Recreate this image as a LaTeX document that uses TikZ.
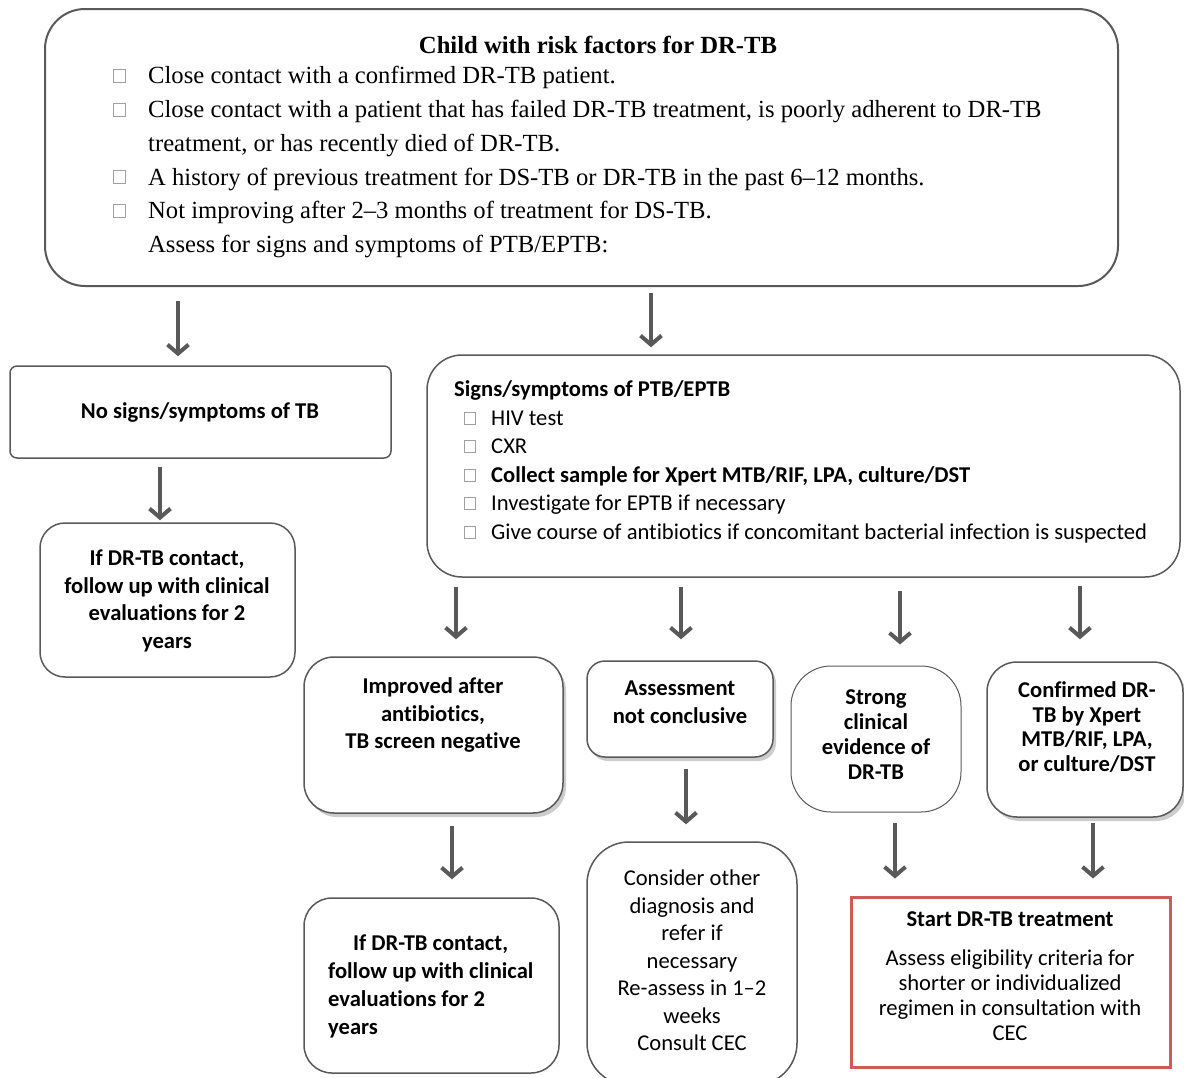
\documentclass[tikz,border=0pt]{standalone}
\usepackage{fontspec}
\setmainfont{Liberation Serif}
\newfontfamily\calfont[Ligatures={NoCommon}]{Carlito}
\usetikzlibrary{arrows.meta,shadows}
\definecolor{lc}{RGB}{89,89,89}
\definecolor{rc}{RGB}{205,92,88}
\definecolor{bq}{RGB}{160,160,160}
\tikzset{
  box/.style={draw=lc, line width=1.5pt, rounded corners=#1, inner sep=0pt, fill=white},
  shad/.style={drop shadow={shadow xshift=3pt, shadow yshift=-4pt, opacity=0.2, fill=black}},
  arr/.style={draw=lc, line width=4pt, -{Straight Barb[length=9pt,width=21pt]}},
  cb/.style={font=\calfont\bfseries\fontsize{22.6}{27.5}\selectfont, align=center, inner sep=0pt},
  cn/.style={font=\calfont\fontsize{22.6}{27.5}\selectfont, align=center, inner sep=0pt},
  cl/.style={font=\calfont\fontsize{22.6}{27.5}\selectfont, anchor=base west, inner sep=0pt},
  tm/.style={font=\fontsize{24.65}{34}\selectfont, anchor=base west, inner sep=0pt},
  bsq/.style={draw=bq, line width=0.8pt, fill=white}
}
\begin{document}
\begin{tikzpicture}[x=1pt,y=-1pt]
\useasboundingbox (0,0) rectangle (1184,1077);
\clip (0,0) rectangle (1184,1077);

% boxes
\node[box=40pt, line width=2pt, minimum width=1073pt, minimum height=277pt] (top) at (581.5,147.5) {};
\node[box=7pt, minimum width=381pt, minimum height=92pt] (b2) at (200.5,412) {};
\node[box=25pt, minimum width=255pt, minimum height=154pt] (b3) at (167.5,600) {};
\node[box=35pt, minimum width=753pt, minimum height=222pt] (b4) at (803.5,466) {};
\node[box=30pt, shad, minimum width=259pt, minimum height=156pt] (b5) at (433.5,735) {};
\node[box=18pt, shad, minimum width=186pt, minimum height=96pt] (b6) at (680,709) {};
\node[box=40pt, line width=1pt, minimum width=170pt, minimum height=146pt] (b7) at (876,739) {};
\node[box=30pt, shad, minimum width=196pt, minimum height=155pt] (b8) at (1085,739.5) {};
\node[box=28pt, minimum width=255pt, minimum height=175pt] (b9) at (431.5,985.5) {};
\node[box=42pt, minimum width=210pt, minimum height=243pt] (b10) at (692,963.5) {};
\node[draw=rc, line width=3pt, fill=white, inner sep=0pt, minimum width=319pt, minimum height=170pt] (b11) at (1010.5,982) {};

% top box text
\node[font=\bfseries\fontsize{24.65}{34}\selectfont, anchor=base, inner sep=0pt] (ttitle) at (598,53) {Child with risk factors for DR-TB};
\node[tm] (tl1) at (148,83) {Close contact with a confirmed DR-TB patient.};
\node[tm] (tl2) at (148,117) {Close contact with a patient that has failed DR-TB treatment, is poorly adherent to DR-TB};
\node[tm] (tl3) at (148,151) {treatment, or has recently died of DR-TB.};
\node[tm] (tl4) at (148,185) {A history of previous treatment for DS-TB or DR-TB in the past 6–12 months.};
\node[tm] (tl5) at (148,218) {Not improving after 2–3 months of treatment for DS-TB.};
\node[tm] (tl6) at (148,252) {Assess for signs and symptoms of PTB/EPTB:};
\foreach \yy in {76,110,177,211}{
  \draw[bsq] (113,\yy-6.5) rectangle (125,\yy+6.5);
}

% b2, b3
\node[cb] (t2) at (200,412) {No signs/symptoms of TB};
\node[cb] (t3) at (167,601) {If DR-TB contact,\\follow up with clinical\\evaluations for 2\\years};

% b4
\node[cl, font=\calfont\bfseries\fontsize{22.6}{27.5}\selectfont] (t4) at (454,396) {Signs/symptoms of PTB/EPTB};
\node[cl] (t4a) at (491,425.5) {HIV test};
\node[cl] (t4b) at (491,453.5) {CXR};
\node[cl, font=\calfont\bfseries\fontsize{22.6}{27.5}\selectfont] (t4c) at (491,482.5) {Collect sample for Xpert MTB/RIF, LPA, culture/DST};
\node[cl] (t4d) at (491,510.5) {Investigate for EPTB if necessary};
\node[cl] (t4e) at (491,539.5) {Give course of antibiotics if concomitant bacterial infection is suspected};
\foreach \yy in {418,446,475,503,532}{
  \draw[bsq] (464,\yy-6) rectangle (475,\yy+6);
}

% second row
\node[cb] (t5) at (433,715) {Improved after\\antibiotics,\\TB screen negative};
\node[cb] (t6) at (680,702) {Assessment\\not conclusive};
\node[cb, font=\calfont\bfseries\fontsize{22.6}{25}\selectfont] (t7) at (876,734.5) {Strong\\clinical\\evidence of\\DR-TB};
\node[cb, font=\calfont\bfseries\fontsize{22.6}{24.7}\selectfont] (t8) at (1087,727) {Confirmed DR-\\TB by Xpert\\MTB/RIF, LPA,\\or culture/DST};

% third row
\node[cb, align=left, anchor=west, font=\calfont\bfseries\fontsize{22.6}{28}\selectfont] (t9) at (328,986) {\hspace*{25pt}If DR-TB contact,\\follow up with clinical\\evaluations for 2\\years};
\node[cn] (t10) at (692,960.5) {Consider other\\diagnosis and\\refer if\\necessary\\Re-assess in 1–2\\weeks\\Consult CEC};
\node[cb] (t11) at (1010,919) {Start DR-TB treatment};
\node[cn, font=\calfont\fontsize{22.6}{25}\selectfont] (t11b) at (1010,995.5) {Assess eligibility criteria for\\shorter or individualized\\regimen in consultation with\\CEC};

% arrow x positions
\coordinate (x1) at (178,0);
\coordinate (x2) at (651,0);
\coordinate (x3) at (160,0);
\coordinate (x4) at (456,0);
\coordinate (x5) at (681,0);
\coordinate (x6) at (900,0);
\coordinate (x7) at (1080,0);
\coordinate (x8) at (452,0);
\coordinate (x9) at (686,0);
\coordinate (x10) at (895,0);
\coordinate (x11) at (1093,0);

\draw[arr, shorten <=14pt, shorten >=9pt] (top.south -| x1) -- (b2.north -| x1);
\draw[arr, shorten <=6pt, shorten >=7pt] (top.south -| x2) -- (b4.north -| x2);
\draw[arr, shorten <=8pt, shorten >=2pt] (b2.south -| x3) -- (b3.north -| x3);
\draw[arr, shorten <=9pt, shorten >=17pt] (b4.south -| x4) -- (b5.north -| x4);
\draw[arr, shorten <=9pt, shorten >=21pt] (b4.south -| x5) -- (b6.north -| x5);
\draw[arr, shorten <=13pt, shorten >=21pt] (b4.south -| x6) -- (b7.north -| x6);
\draw[arr, shorten <=8pt, shorten >=22pt] (b4.south -| x7) -- (b8.north -| x7);
\draw[arr, shorten <=12pt, shorten >=18pt] (b5.south -| x8) -- (b9.north -| x8);
\draw[arr, shorten <=11pt, shorten >=17pt] (b6.south -| x9) -- (b10.north -| x9);
\draw[arr, shorten <=10pt, shorten >=17pt] (b7.south -| x10) -- (b11.north -| x10);
\draw[arr, shorten <=5pt, shorten >=17pt] (b8.south -| x11) -- (b11.north -| x11);
\end{tikzpicture}
\end{document}
